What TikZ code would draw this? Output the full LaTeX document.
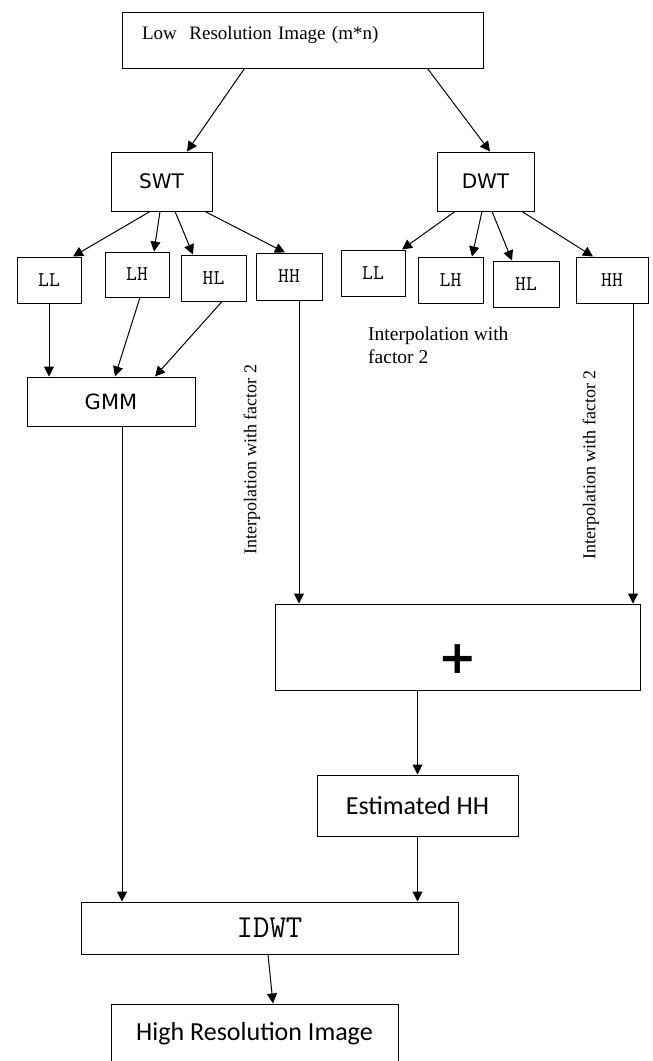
\documentclass[tikz,border=0pt]{standalone}
\usepackage{fontspec}
\setmainfont{Liberation Serif}
\newfontfamily\swtfont{DejaVu Sans}
\newfontfamily\calfont{Carlito}
\usetikzlibrary{arrows.meta,shapes,positioning}

\begin{document}
\begin{tikzpicture}[x=1pt, y=-1pt,
    box/.style={rectangle, draw, line width=1pt, inner sep=0pt},
    band/.style={box, minimum width=64pt, minimum height=46pt, font=\ttfamily\fontsize{21}{22}\selectfont},
    wt/.style={box, minimum width=99pt, minimum height=59pt, font=\swtfont\fontsize{20}{24}\selectfont},
    interp/.style={font=\fontsize{18}{23}\selectfont, inner sep=0pt},
    arrow/.style={-{Triangle[length=10pt,width=10pt]}, line width=1pt}
]
    \useasboundingbox (0,0) rectangle (653,1061);
    \clip (0,0) rectangle (653,1061);

    \node[box, minimum width=361pt, minimum height=56pt, inner xsep=20pt, text width=321pt, align=left,
          text depth=14pt, font=\fontsize{19}{20}\selectfont] (lowres) at (302.5,40) {Low\ \ Resolution Image (m*n)};

    \node[wt, minimum width=101pt] (swt) at (161.5,181.5) {SWT};
    \node[wt, minimum width=97pt] (dwt) at (485.5,181.5) {DWT};

    % SWT sub-bands
    \node[band] (ll1) at (49,280) {LL};
    \node[band, minimum height=45pt] (lh1) at (137,274.5) {LH};
    \node[band, minimum width=65pt] (hl1) at (213.5,278) {HL};
    \node[band, minimum width=66pt, minimum height=47pt] (hh1) at (289,276.5) {HH};

    % DWT sub-bands
    \node[band] (ll2) at (373,273) {LL};
    \node[band, minimum width=65pt] (lh2) at (450.5,280) {LH};
    \node[band, minimum width=66pt] (hl2) at (526,284) {HL};
    \node[band, minimum width=72pt] (hh2) at (612,280) {HH};

    \node[box, minimum width=168pt, minimum height=49pt, font=\swtfont\fontsize{21}{24}\selectfont] (gmm) at (111,401.5) {GMM};

    \node[interp, anchor=north west, align=left, font=\fontsize{19.5}{23}\selectfont] (interp) at (368,327) {Interpolation with\\factor 2};
    \node[interp, rotate=90] (interpl) at (252,459.5) {Interpolation with factor 2};
    \node[interp, rotate=90] (interpr) at (591,465) {Interpolation with factor 2};

    \node[box, minimum width=365pt, minimum height=86pt, text height=52pt, text depth=0pt, font=\swtfont\bfseries\fontsize{46}{46}\selectfont] (plus) at (457.5,647) {+};
    \node[box, minimum width=201pt, minimum height=61pt, font=\calfont\fontsize{26}{28}\selectfont] (est) at (417.5,805.5) {Estimated HH};
    \node[box, minimum width=377pt, minimum height=52pt, font=\ttfamily\fontsize{32}{32}\selectfont] (idwt) at (269.5,928) {IDWT};
    \node[box, minimum width=287pt, minimum height=60pt, font=\calfont\fontsize{26}{28}\selectfont] (high) at (254.5,1034) {High Resolution Image};

    \draw[arrow] ([xshift=123pt]lowres.south west) -- ([xshift=25.5pt]swt.north);
    \draw[arrow] ([xshift=-56pt]lowres.south east) -- ([xshift=4.5pt]dwt.north);

    \draw[arrow] ([xshift=-11.5pt]swt.south) -- ([xshift=24pt]ll1.north);
    \draw[arrow] ([xshift=-1.5pt]swt.south) -- ([xshift=17pt]lh1.north);
    \draw[arrow] ([xshift=13.5pt]swt.south) -- ([xshift=-20.5pt]hl1.north);
    \draw[arrow] ([xshift=43.5pt]swt.south) -- ([xshift=-4pt]hh1.north);

    \draw[arrow] ([xshift=-30.5pt]dwt.south) -- ([xshift=29pt]ll2.north);
    \draw[arrow] ([xshift=-3.5pt]dwt.south) -- ([xshift=21.5pt]lh2.north);
    \draw[arrow] ([xshift=6.5pt]dwt.south) -- ([xshift=-14pt]hl2.north);
    \draw[arrow] ([xshift=36.5pt]dwt.south) -- ([xshift=-19pt]hh2.north);

    \draw[arrow] (ll1.south) -- (ll1.south |- gmm.north);
    \draw[arrow] ([xshift=3pt]lh1.south) -- ([xshift=4pt]gmm.north);
    \draw[arrow] ([xshift=8.5pt]hl1.south) -- ([xshift=44pt]gmm.north);

    \draw[arrow] ([xshift=10pt]hh1.south) -- ([xshift=10pt]hh1.south |- plus.north);
    \draw[arrow] ([xshift=21pt]hh2.south) -- ([xshift=21pt]hh2.south |- plus.north);

    \draw[arrow] (est.north |- plus.south) -- (est.north);
    \draw[arrow] (est.south) -- (est.south |- idwt.north);
    \draw[arrow] ([xshift=11pt]gmm.south) -- ([xshift=11pt]gmm.south |- idwt.north);
    \draw[arrow] ([xshift=-1.5pt]idwt.south) -- ([xshift=18.5pt]high.north);
\end{tikzpicture}
\end{document}
